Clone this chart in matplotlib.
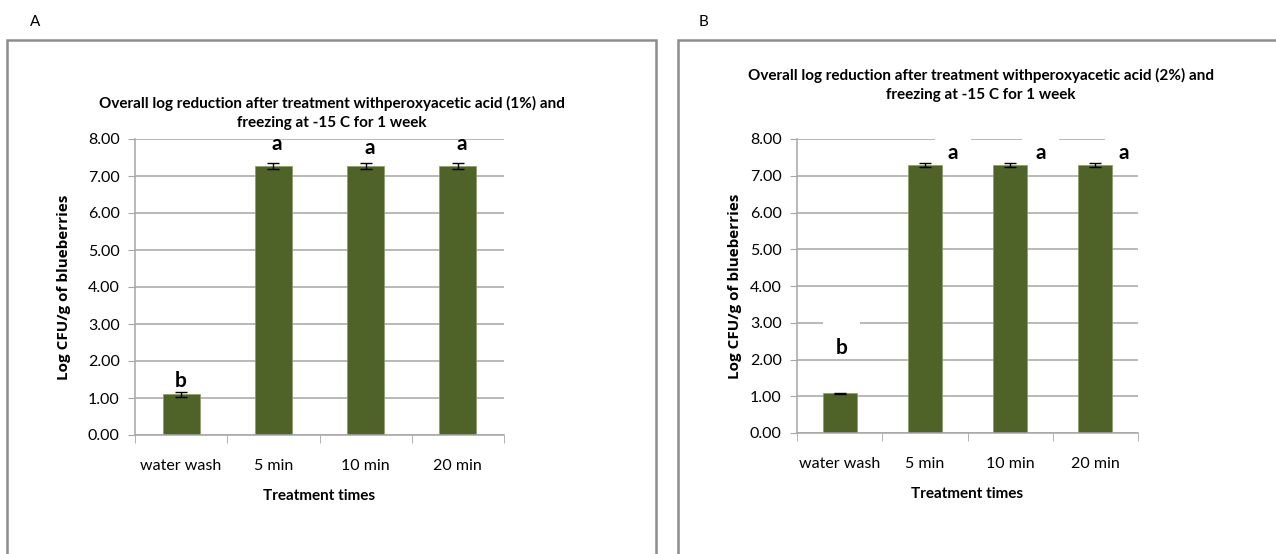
import numpy as np
import matplotlib
matplotlib.use('Agg')
import matplotlib.pyplot as plt
from matplotlib.patches import Rectangle

plt.rcParams['font.family'] = ['Lato', 'DejaVu Sans']

# ---------- data ----------
categories = ['water wash', '5 min', '10 min', '20 min']

means_1pct = [1.10, 7.27, 7.27, 7.27]
err_1pct = [0.06, 0.08, 0.08, 0.08]
letters_1pct = ['b', 'a', 'a', 'a']

means_2pct = [1.08, 7.30, 7.30, 7.30]
err_2pct = [0.02, 0.05, 0.05, 0.05]
letters_2pct = ['b', 'a', 'a', 'a']

yticks = [0, 1, 2, 3, 4, 5, 6, 7, 8]

bar_color = '#4f6228'
grid_color = '#a6a6a6'

fig = plt.figure(figsize=(12.76, 5.54), dpi=100)

# panel frames
fig.patches.append(Rectangle((7 / 1276, -0.1), (656 - 7) / 1276, 1.1 - 40 / 554,
                             transform=fig.transFigure, fill=False,
                             edgecolor='#8c8c8c', linewidth=1.8))
fig.patches.append(Rectangle((678 / 1276, -0.1), 0.6, 1.1 - 40 / 554,
                             transform=fig.transFigure, fill=False,
                             edgecolor='#8c8c8c', linewidth=1.8))

fig.text(35 / 1276, 1 - 22 / 554, 'A', fontsize=11, ha='center', va='center')
fig.text(703 / 1276, 1 - 22 / 554, 'B', fontsize=11, ha='center', va='center')


def draw_panel(ax, means, errs, letters, title, title_xy, boxed, ylab_pad):
    x = np.arange(len(categories))
    ax.set_axisbelow(True)
    ax.yaxis.grid(True, color=grid_color, linewidth=1.1)
    ax.bar(x, means, width=0.4, color=bar_color, edgecolor='#8a9a6a',
           linewidth=0.5, zorder=2)
    ax.errorbar(x, means, yerr=errs, fmt='none', ecolor='black',
                elinewidth=1, capsize=4, capthick=1, zorder=3)

    ax.set_xlim(-0.5, len(categories) - 0.5)
    ax.set_ylim(0, 8)
    ax.set_yticks(yticks)
    ax.set_yticklabels([f'{v:.2f}' for v in yticks], fontsize=11.5)
    ax.set_xticks(x)
    ax.set_xticklabels(categories, fontsize=11.5)
    ax.set_xticks(np.arange(len(categories) + 1) - 0.5, minor=True)
    ax.tick_params(axis='x', which='major', length=0, pad=17)
    ax.tick_params(axis='x', which='minor', length=6, color=grid_color)
    ax.tick_params(axis='y', length=5, color=grid_color, pad=6)

    for s in ['top', 'right']:
        ax.spines[s].set_visible(False)
    for s in ['left', 'bottom']:
        ax.spines[s].set_color(grid_color)
        ax.spines[s].set_linewidth(1.1)

    ax.set_xlabel('Treatment times', fontsize=11, fontweight='bold', labelpad=12)
    ax.set_ylabel('Log CFU/g of blueberries', fontsize=11, fontweight='bold',
                  family=['Open Sans', 'DejaVu Sans'], labelpad=ylab_pad)

    fig.text(title_xy[0], title_xy[1], title, fontsize=11, fontweight='bold',
             ha='center', va='top', linespacing=1.45)

    for i, (m, e, lab) in enumerate(zip(means, errs, letters)):
        if boxed:
            if lab == 'b':
                ax.text(i + 0.02, m + 0.95, '       \n' + lab, fontsize=15,
                        fontweight='bold', ha='center', va='bottom',
                        multialignment='center', linespacing=1.15,
                        bbox=dict(boxstyle='square,pad=0.02', fc='white', ec='none'),
                        zorder=4)
            else:
                ax.text(i + 0.33 + (0.03 if i == 2 else 0), m + 0.05, '       \n' + lab,
                        fontsize=15, fontweight='bold', ha='center', va='bottom',
                        multialignment='center', linespacing=1.1,
                        bbox=dict(boxstyle='square,pad=0.02', fc='white', ec='none'),
                        zorder=4)
        else:
            dy = 0.22 if i == 2 else 0.33
            if lab == 'b':
                ax.text(i, m + 0.1, lab, fontsize=15, fontweight='bold',
                        ha='center', va='bottom', zorder=4)
            else:
                ax.text(i + 0.04, m + dy, lab, fontsize=15, fontweight='bold',
                        ha='center', va='bottom', zorder=4)


ax1 = fig.add_axes([135 / 1276, 1 - 435 / 554, 369 / 1276, 296 / 554])
draw_panel(ax1, means_1pct, err_1pct, letters_1pct,
           'Overall log reduction after treatment withperoxyacetic acid (1%) and\n'
           'freezing at -15 C for 1 week',
           (332 / 1276, 1 - 96 / 554), boxed=False, ylab_pad=12)

ax2 = fig.add_axes([797 / 1276, 1 - 433 / 554, 341 / 1276, 294 / 554])
draw_panel(ax2, means_2pct, err_2pct, letters_2pct,
           'Overall log reduction after treatment withperoxyacetic acid (2%) and\n'
           'freezing at -15 C for 1 week',
           (981 / 1276, 1 - 68 / 554), boxed=True, ylab_pad=6)

fig.savefig('out.png', dpi=100)
